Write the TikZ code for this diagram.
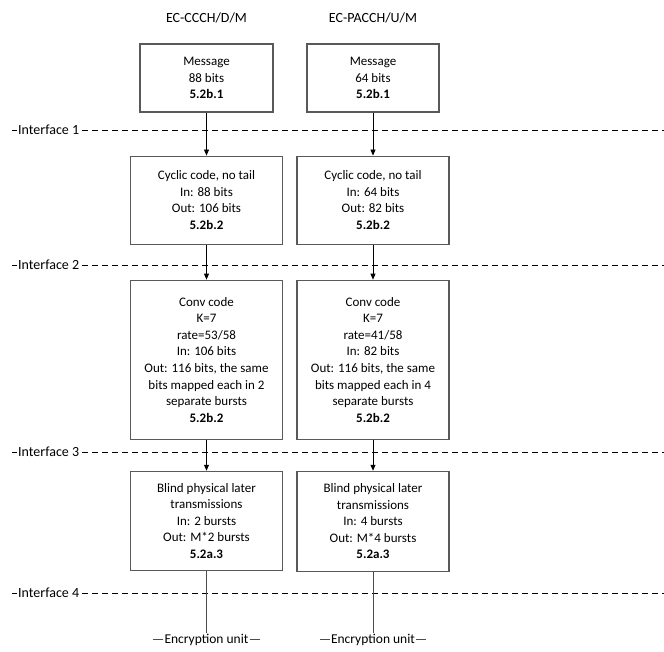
\documentclass[tikz,border=0pt]{standalone}
\usepackage{fontspec}
\setmainfont{Carlito}
\usetikzlibrary{arrows.meta, positioning}
\tikzset{
    block/.style={
        rectangle,
        draw=black!65,
        line width=1.1pt,
        align=center,
        fill=white,
        minimum width=152pt,
        inner sep=2pt,
        font=\fontsize{13}{16.6}\selectfont
    },
    wire/.style={
        draw=black,
        line width=0.8pt,
        -{Triangle[length=6pt,width=5pt]}
    },
    plainwire/.style={
        draw=black!70,
        line width=0.8pt
    },
    iface/.style={
        draw=black,
        line width=0.8pt,
        dash pattern=on 6pt off 4pt
    },
    ifacelabel/.style={
        fill=white,
        inner sep=1pt,
        anchor=west,
        font=\fontsize{14}{16}\selectfont
    },
    chantitle/.style={
        font=\fontsize{14}{16}\selectfont
    },
    enclabel/.style={
        inner sep=1pt,
        font=\fontsize{13.5}{15}\selectfont
    }
}

\begin{document}
\begin{tikzpicture}[x=1pt,y=-1pt]
\useasboundingbox (0,0) rectangle (664,651);

% Interfaces
\foreach \y [count=\i] in {130,265,452,593} {
    \draw[iface] (12,\y) coordinate (if\i) -- (664,\y);
    \node[ifacelabel] (iflabel\i) at (17,\y) {Interface \i};
}

% Message
\node[block, minimum width=133pt, minimum height=68pt] (msg1) at (206.5,78) {Message\\88 bits\\\textbf{5.2b.1}};
\node[block, minimum width=132pt, minimum height=68pt] (msg2) at (373,78) {Message\\64 bits\\\textbf{5.2b.1}};

\node[chantitle, above=17pt of msg1] (title1) {EC-CCCH/D/M};
\node[chantitle, above=17pt of msg2] (title2) {EC-PACCH/U/M};

% Cyclic code
\node[block, minimum height=88pt, below=43pt of msg1] (cyc1) {Cyclic code, no tail\\In: 88 bits\\Out: 106 bits\\\textbf{5.2b.2}};
\node[block, minimum height=88pt, below=43pt of msg2] (cyc2) {Cyclic code, no tail\\In: 64 bits\\Out: 82 bits\\\textbf{5.2b.2}};

% Conv code
\node[block, minimum height=159pt, below=35pt of cyc1] (conv1) {Conv code\\K=7\\rate=53/58\\In: 106 bits\\Out: 116 bits, the same\\bits mapped each in 2\\separate bursts\\\textbf{5.2b.2}};
\node[block, minimum height=159pt, below=35pt of cyc2] (conv2) {Conv code\\K=7\\rate=41/58\\In: 82 bits\\Out: 116 bits, the same\\bits mapped each in 4\\separate bursts\\\textbf{5.2b.2}};

% Blind transmissions
\node[block, minimum height=99pt, below=31pt of conv1] (blind1) {Blind physical later\\transmissions\\In: 2 bursts\\Out: M*2 bursts\\\textbf{5.2a.3}};
\node[block, minimum height=100pt, below=31pt of conv2] (blind2) {Blind physical later\\transmissions\\In: 4 bursts\\Out: M*4 bursts\\\textbf{5.2a.3}};

% Encryption
\node[enclabel, below=62pt of blind1] (enc1) {Encryption unit};
\node[enclabel, below=61pt of blind2] (enc2) {Encryption unit};

\draw[wire] (msg1) -- (cyc1);
\draw[wire] (msg2) -- (cyc2);
\draw[wire] (cyc1) -- (conv1);
\draw[wire] (cyc2) -- (conv2);
\draw[wire] (conv1) -- (blind1);
\draw[wire] (conv2) -- (blind2);
\draw[plainwire] (blind1) -- (enc1);
\draw[plainwire] (blind2) -- (enc2);

\draw[plainwire] (enc1.west) -- ++(-10,0);
\draw[plainwire] (enc1.east) -- ++(10,0);
\draw[plainwire] (enc2.west) -- ++(-10,0);
\draw[plainwire] (enc2.east) -- ++(10,0);

\end{tikzpicture}
\end{document}
